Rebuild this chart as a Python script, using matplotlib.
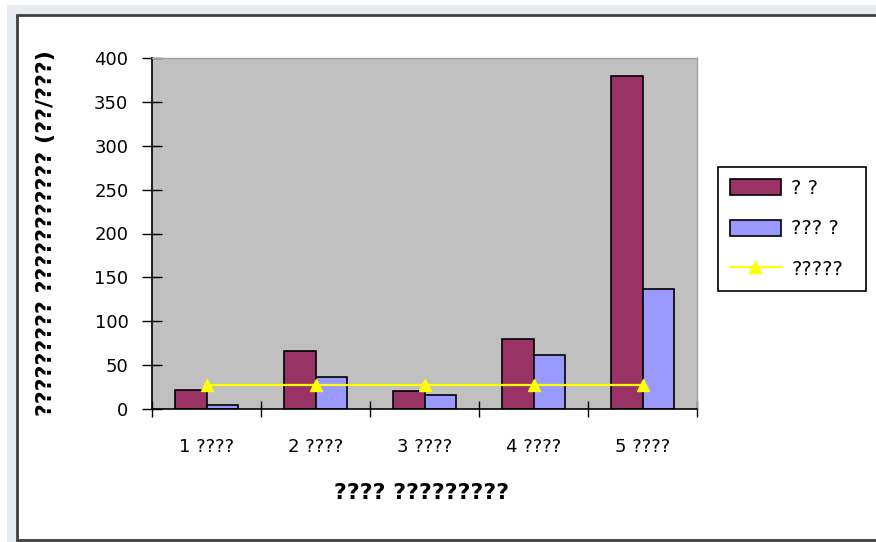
import matplotlib
matplotlib.use('Agg')
import matplotlib.pyplot as plt
from matplotlib.patches import Rectangle
import numpy as np

# datos
categorias = ['1 ????', '2 ????', '3 ????', '4 ????', '5 ????']
serie_1 = [22, 66, 20, 80, 380]
serie_2 = [4, 36, 16, 62, 137]
serie_linea = [27, 27, 27, 27, 27]
nombres = ['? ?', '??? ?', '?????']
titulo_x = '???? ?????????'
titulo_y = '????????? ??????????? (??/???)'

plt.rcParams['font.family'] = ['DejaVu Sans']

fig = plt.figure(figsize=(8.76, 5.42), dpi=100)
fig.patch.set_facecolor('white')

# fondo gris claro y marco del grafico
W, H = 876.0, 542.0
fig.patches.append(Rectangle((7 / W, 0), 1, 1 - 5 / H, transform=fig.transFigure,
                             facecolor='#e8ebef', edgecolor='none', zorder=-5))
fig.patches.append(Rectangle((17 / W, 2 / H), 1, 1 - 17 / H, transform=fig.transFigure,
                             facecolor='white', edgecolor='#404040', linewidth=2, zorder=-4))

ax = fig.add_axes([152 / W, 1 - 409 / H, 545 / W, 351 / H])
ax.set_facecolor('#c0c0c0')

x = np.arange(len(categorias))
ancho = 0.29
b1 = ax.bar(x - ancho / 2, serie_1, ancho, color='#993366', edgecolor='black', linewidth=1.2,
            label=nombres[0], zorder=2)
b2 = ax.bar(x + ancho / 2, serie_2, ancho, color='#9999ff', edgecolor='black', linewidth=1.2,
            label=nombres[1], zorder=2)
l1, = ax.plot(x, serie_linea, color='#ffff00', linewidth=1.6, marker='^', markersize=9,
              markerfacecolor='#ffff00', markeredgecolor='#ffff00', label=nombres[2], zorder=3)

ax.set_xlim(-0.5, len(categorias) - 0.5)
ax.set_ylim(0, 400)
ax.set_yticks(np.arange(0, 401, 50))
ax.set_xticks(np.arange(-0.5, len(categorias), 1))
ax.set_xticklabels([])
ax.set_xticks(x, minor=True)
ax.set_xticklabels(categorias, minor=True)

ax.tick_params(axis='y', direction='inout', length=14, width=1, labelsize=13, pad=10)
ax.tick_params(axis='x', which='major', direction='inout', length=12, width=1)
ax.tick_params(axis='x', which='minor', length=0, labelsize=13, pad=21)

for lado in ['top', 'right']:
    ax.spines[lado].set_color('#a0a0a0')
    ax.spines[lado].set_linewidth(1)
for lado in ['left', 'bottom']:
    ax.spines[lado].set_color('black')
    ax.spines[lado].set_linewidth(1.2)

fig.text(422 / W, 1 - 493 / H, titulo_x, ha='center', va='center',
         fontsize=16, fontweight='bold')
fig.text(46 / W, 1 - 233 / H, titulo_y, ha='center', va='center', rotation=90,
         fontsize=16, fontweight='bold')

leg = ax.legend([b1, b2, l1], nombres, loc='upper left',
                bbox_to_anchor=(718 / W, 1 - 293 / H, 148 / W, 126 / H), mode='expand',
                bbox_transform=fig.transFigure, fontsize=14, frameon=True,
                fancybox=False, edgecolor='black', framealpha=1, borderaxespad=0,
                labelspacing=1.1, handlelength=2.6, handleheight=0.9,
                borderpad=0.62, handletextpad=0.55)
leg.get_frame().set_linewidth(1.2)

plt.savefig('out.png', dpi=100)
